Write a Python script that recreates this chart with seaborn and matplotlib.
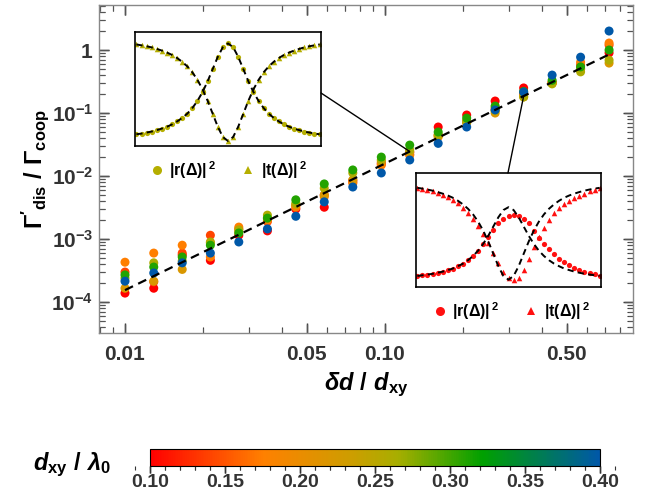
import numpy as np
import pandas as pd
import matplotlib
matplotlib.use("Agg")
import matplotlib.pyplot as plt
import seaborn as sns
from matplotlib.colors import LinearSegmentedColormap, Normalize
from matplotlib.cm import ScalarMappable
from matplotlib.patches import ConnectionPatch
from matplotlib.lines import Line2D
import matplotlib.ticker as mticker

plt.rcdefaults()
plt.rcParams['font.family'] = ['Liberation Sans', 'DejaVu Sans']
plt.rcParams['font.weight'] = 'bold'
plt.rcParams['mathtext.fontset'] = 'custom'
plt.rcParams['mathtext.rm'] = 'Liberation Sans:bold'
plt.rcParams['mathtext.it'] = 'Liberation Sans:bold:italic'
plt.rcParams['mathtext.bf'] = 'Liberation Sans:bold'
plt.rcParams['mathtext.bfit'] = 'Liberation Sans:bold:italic'
plt.rcParams['mathtext.sf'] = 'Liberation Sans:bold'
plt.rcParams['xtick.direction'] = 'in'
plt.rcParams['ytick.direction'] = 'in'
plt.rcParams['xtick.top'] = True
plt.rcParams['ytick.right'] = True
plt.rcParams['xtick.major.size'] = 7
plt.rcParams['ytick.major.size'] = 7
plt.rcParams['xtick.minor.size'] = 4
plt.rcParams['ytick.minor.size'] = 4
plt.rcParams['xtick.major.width'] = 1.0
plt.rcParams['ytick.major.width'] = 1.0
plt.rcParams['xtick.minor.width'] = 0.8
plt.rcParams['ytick.minor.width'] = 0.8
plt.rcParams['xtick.color'] = '#333333'
plt.rcParams['ytick.color'] = '#333333'

# ---------------- data ----------------
delta_d = [0.0100, 0.0129, 0.0166, 0.0213, 0.0274, 0.0353, 0.0454, 0.0584, 0.0752,
           0.0968, 0.1245, 0.1602, 0.2062, 0.2653, 0.3415, 0.4394, 0.5655, 0.7277]
dxy_values = [0.10, 0.14, 0.175, 0.22, 0.26, 0.31, 0.40]
gamma_010 = [1.39e-4, 1.66e-4, 5.6e-4, 4.6e-4, 1.15e-3, 1.35e-3, 3.0e-3, 3.2e-3, 8.5e-3,
             1.6e-2, 2.4e-2, 6.0e-2, 9.3e-2, 0.155, 0.25, 0.30, 0.50, 0.90]
gamma_014 = [3.0e-4, 2.1e-4, 6.0e-4, 1.15e-3, 1.45e-3, 1.9e-3, 3.4e-3, 5.0e-3, 8.0e-3,
             1.55e-2, 2.2e-2, 4.5e-2, 7.5e-2, 0.12, 0.20, 0.31, 0.58, 1.2]
gamma_0175 = [4.3e-4, 6.0e-4, 8.0e-4, 5.2e-4, 1.55e-3, 2.0e-3, 3.2e-3, 4.7e-3, 7.7e-3,
              1.49e-2, 2.15e-2, 4.2e-2, 7.0e-2, 0.11, 0.19, 0.30, 0.64, 1.29]
gamma_022 = [1.66e-4, 2.15e-4, 3.3e-4, 8.7e-4, 1.3e-3, 2.15e-3, 3.5e-3, 5.0e-3, 8.7e-3,
             1.7e-2, 2.4e-2, 4.3e-2, 7.2e-2, 0.100, 0.18, 0.30, 0.50, 0.62]
gamma_026 = [2.4e-4, 4.2e-4, 4.5e-4, 9.0e-4, 1.4e-3, 2.4e-3, 3.7e-3, 6.4e-3, 1.12e-2,
             1.8e-2, 2.6e-2, 4.5e-2, 7.2e-2, 0.11, 0.18, 0.29, 0.45, 0.69]
gamma_031 = [2.7e-4, 3.6e-4, 5.2e-4, 8.0e-4, 1.25e-3, 2.15e-3, 4.2e-3, 7.5e-3, 1.25e-2,
             2.0e-2, 3.1e-2, 5.0e-2, 8.3e-2, 0.129, 0.22, 0.33, 0.54, 1.0]
gamma_040 = [2.15e-4, 2.9e-4, 4.2e-4, 6.0e-4, 9.0e-4, 1.45e-3, 2.3e-3, 3.9e-3, 6.7e-3,
             1.12e-2, 1.8e-2, 3.3e-2, 6.0e-2, 0.112, 0.215, 0.40, 0.77, 2.0]
gamma_series = [gamma_010, gamma_014, gamma_0175, gamma_022, gamma_026, gamma_031, gamma_040]

fit_x = [0.0100, 0.7277]
fit_y = [1.55e-4, 0.85]

x_major = [0.01, 0.05, 0.10, 0.50]
x_major_labels = ['0.01', '0.05', '0.10', '0.50']
x_minor = [0.008, 0.009, 0.02, 0.03, 0.04, 0.06, 0.07, 0.08, 0.09,
           0.2, 0.3, 0.4, 0.6, 0.7, 0.8]
y_major = [1e-4, 1e-3, 1e-2, 1e-1, 1.0]
y_major_labels = [r'$\mathbf{10^{-4}}$', r'$\mathbf{10^{-3}}$', r'$\mathbf{10^{-2}}$',
                  r'$\mathbf{10^{-1}}$', r'$\mathbf{1}$']
cbar_ticks = [0.10, 0.15, 0.20, 0.25, 0.30, 0.35, 0.40]
cbar_tick_labels = ['0.10', '0.15', '0.20', '0.25', '0.30', '0.35', '0.40']

cmap_positions = [0.0, 0.25, 0.45, 0.55, 0.74, 1.0]
cmap_colors = ['#FF0000', '#FF8000', '#CC9E00', '#A8AE00', '#00A000', '#0058A8']

# inset spectra (normalised detuning, values as fraction of inset height)
detuning = [-1.0, -0.944, -0.889, -0.833, -0.778, -0.722, -0.667, -0.611, -0.556, -0.5,
            -0.444, -0.389, -0.333, -0.278, -0.222, -0.167, -0.111, -0.056, 0.0,
            0.056, 0.111, 0.167, 0.222, 0.278, 0.333, 0.389, 0.444, 0.5, 0.556,
            0.611, 0.667, 0.722, 0.778, 0.833, 0.889, 0.944, 1.0]
r_yellow = [0.103, 0.109, 0.118, 0.127, 0.139, 0.153, 0.169, 0.189, 0.215, 0.246, 0.284,
            0.333, 0.396, 0.473, 0.568, 0.675, 0.783, 0.867, 0.900, 0.867, 0.783, 0.675,
            0.568, 0.473, 0.396, 0.333, 0.284, 0.246, 0.215, 0.189, 0.169, 0.153, 0.139,
            0.127, 0.118, 0.109, 0.103]
t_yellow = [0.891, 0.883, 0.875, 0.865, 0.852, 0.837, 0.820, 0.799, 0.772, 0.739, 0.698,
            0.646, 0.579, 0.497, 0.396, 0.283, 0.168, 0.079, 0.044, 0.079, 0.168, 0.283,
            0.396, 0.497, 0.579, 0.646, 0.698, 0.739, 0.772, 0.799, 0.820, 0.837, 0.852,
            0.865, 0.875, 0.883, 0.891]
r_theory_red = [0.097, 0.103, 0.109, 0.116, 0.125, 0.135, 0.148, 0.162, 0.182, 0.205, 0.235,
                0.272, 0.319, 0.378, 0.449, 0.530, 0.612, 0.675, 0.700, 0.675, 0.612, 0.530,
                0.449, 0.378, 0.319, 0.272, 0.235, 0.205, 0.182, 0.162, 0.148, 0.135, 0.125,
                0.116, 0.109, 0.103, 0.097]
t_theory_red = [0.870, 0.863, 0.855, 0.845, 0.833, 0.819, 0.803, 0.783, 0.757, 0.725, 0.686,
                0.637, 0.573, 0.495, 0.399, 0.292, 0.182, 0.097, 0.064, 0.097, 0.182, 0.292,
                0.399, 0.495, 0.573, 0.637, 0.686, 0.725, 0.757, 0.783, 0.803, 0.819, 0.833,
                0.845, 0.855, 0.863, 0.870]
r_red = [0.097, 0.103, 0.109, 0.116, 0.125, 0.135, 0.148, 0.162, 0.182, 0.205, 0.235, 0.272,
         0.319, 0.378, 0.44, 0.50, 0.56, 0.60, 0.625, 0.635, 0.625, 0.60, 0.56, 0.49, 0.43,
         0.38, 0.335, 0.29, 0.25, 0.22, 0.195, 0.17, 0.152, 0.135, 0.122, 0.11, 0.10]
t_red = [0.87, 0.862, 0.853, 0.842, 0.828, 0.811, 0.79, 0.764, 0.733, 0.695, 0.65, 0.597,
         0.535, 0.463, 0.385, 0.30, 0.21, 0.13, 0.08, 0.058, 0.075, 0.15, 0.25, 0.35, 0.44,
         0.52, 0.59, 0.645, 0.69, 0.725, 0.755, 0.78, 0.80, 0.82, 0.838, 0.855, 0.87]

yellow_col = '#B5AE00'
red_col = '#FF1010'
tick_col = '#555555'

# ---------------- figure ----------------
cmap = LinearSegmentedColormap.from_list('dxy', list(zip(cmap_positions, cmap_colors)))
norm = Normalize(0.10, 0.40)

df = pd.DataFrame({
    'dd': np.tile(delta_d, len(dxy_values)),
    'gamma': np.concatenate(gamma_series),
    'dxy': np.repeat(dxy_values, len(delta_d)),
})

fig = plt.figure(figsize=(6.49, 4.96), dpi=100)
ax = fig.add_axes([99/649, 1-333/496, 534/649, 328/496])
ax.set_xscale('log')
ax.set_yscale('log')
sns.scatterplot(data=df, x='dd', y='gamma', hue='dxy', palette=cmap, hue_norm=norm,
                s=42, linewidth=0, legend=False, ax=ax, zorder=3)
sns.lineplot(x=fit_x, y=fit_y, ax=ax, color='black', lw=1.6, zorder=4,
             linestyle=(0, (4, 2.6)), estimator=None, sort=False)
ax.set_xlim(10**-2.1, 10**-0.046)
ax.set_ylim(10**-4.49, 10**0.714)

ax.set_xticks(x_major)
ax.set_xticklabels(x_major_labels)
ax.set_xticks(x_minor, minor=True)
ax.xaxis.set_minor_formatter(mticker.NullFormatter())
ax.set_yticks(y_major)
ax.set_yticklabels(y_major_labels)
ax.yaxis.set_minor_locator(mticker.LogLocator(base=10, subs=np.arange(2, 10), numticks=50))
ax.yaxis.set_minor_formatter(mticker.NullFormatter())
ax.tick_params(axis='x', which='major', labelsize=15, pad=9)
ax.tick_params(axis='y', which='major', labelsize=15, pad=4)
for lab in ax.get_xticklabels() + ax.get_yticklabels():
    lab.set_fontweight('bold')
for sp in ax.spines.values():
    sp.set_color('#888888')
    sp.set_linewidth(1.0)

# explicit tick strokes (same positions as the axis locators), drawn on all four sides
tx = ax.get_xaxis_transform()
ty = ax.get_yaxis_transform()
ylo, yhi = ax.get_ylim()
xmaj = ax.xaxis.get_majorticklocs()
xmin_ = ax.xaxis.get_minorticklocs()
ymaj = [v for v in ax.yaxis.get_majorticklocs() if ylo <= v <= yhi]
ymin_ = [v for v in ax.yaxis.get_minorticklocs() if ylo <= v <= yhi]
for locs, L, lw in ((xmaj, 9.5/328, 1.0), (xmin_, 5.5/328, 0.8)):
    ax.vlines(locs, 0, L, transform=tx, color=tick_col, lw=lw, zorder=2)
    ax.vlines(locs, 1 - L, 1, transform=tx, color=tick_col, lw=lw, zorder=2)
for locs, L, lw in ((ymaj, 9.5/534, 1.0), (ymin_, 5.5/534, 0.8)):
    ax.hlines(locs, 0, L, transform=ty, color=tick_col, lw=lw, zorder=2)
    ax.hlines(locs, 1 - L, 1, transform=ty, color=tick_col, lw=lw, zorder=2)

ax.set_xlabel(r'$\mathbfit{\delta d}\ \mathbf{/}\ \mathbfit{d}_{\mathbf{xy}}$', fontsize=17)
ax.xaxis.set_label_coords(0.5, -0.115)
ax.set_ylabel(r"$\mathbf{\Gamma'_{dis}\ /\ \Gamma_{coop}}$", fontsize=17)
ax.yaxis.set_label_coords(-0.09, 0.5)


def draw_inset(rect, r_pts, t_pts, r_th, t_th, col):
    ins = fig.add_axes(rect)
    sns.scatterplot(x=detuning, y=r_pts, ax=ins, color=col, marker='o', s=14,
                    linewidth=0, legend=False, zorder=2)
    sns.scatterplot(x=detuning, y=t_pts, ax=ins, color=col, marker='^', s=16,
                    linewidth=0, legend=False, zorder=2)
    for th in (r_th, t_th):
        sns.lineplot(x=detuning, y=th, ax=ins, color='black', lw=1.4,
                     linestyle=(0, (3.2, 2.2)), estimator=None, sort=False, zorder=3)
    ins.set_xlim(-1.015, 1.015)
    ins.set_ylim(0, 1)
    ins.set_xticks([])
    ins.set_yticks([])
    ins.set_xlabel('')
    ins.set_ylabel('')
    ins.set_facecolor('white')
    for sp in ins.spines.values():
        sp.set_color('black')
        sp.set_linewidth(1.2)
    return ins


ax1 = draw_inset([135/649, 1-146/496, 186/649, 114/496], r_yellow, t_yellow,
                 r_yellow, t_yellow, yellow_col)
ax2 = draw_inset([416/649, 1-287/496, 185/649, 114/496], r_red, t_red,
                 r_theory_red, t_theory_red, red_col)


def fit_value(xv):
    return 10**np.interp(np.log10(xv), np.log10(fit_x), np.log10(fit_y))


con1 = ConnectionPatch(xyA=(1.0, 0.465), coordsA=ax1.transAxes,
                       xyB=(delta_d[10], fit_value(delta_d[10])), coordsB=ax.transData,
                       color='black', lw=1.0, zorder=5)
fig.add_artist(con1)
con2 = ConnectionPatch(xyA=(0.497, 1.0), coordsA=ax2.transAxes,
                       xyB=(delta_d[14], fit_value(delta_d[14])), coordsB=ax.transData,
                       color='black', lw=1.0, zorder=5)
fig.add_artist(con2)

leg_labels = [r'$\mathbf{|r(\Delta)|}^{\,\mathbf{2}}$', r'$\mathbf{|t(\Delta)|}^{\,\mathbf{2}}$']
for col, center in ((yellow_col, (227/649, 1-170/496)), (red_col, (510/649, 1-311/496))):
    handles = [Line2D([], [], ls='', marker='o', color=col, ms=6.5, mew=0),
               Line2D([], [], ls='', marker='^', color=col, ms=5.5, mew=0)]
    fig.legend(handles=handles, labels=leg_labels, ncol=2, loc='center',
               bbox_to_anchor=center, frameon=False, fontsize=11.5,
               handletextpad=0.2, columnspacing=1.4, handlelength=1.2)

cax = fig.add_axes([150/649, 1-466/496, 450/649, 17/496])
cb = fig.colorbar(ScalarMappable(norm=norm, cmap=cmap), cax=cax, orientation='horizontal')
cb.set_ticks(cbar_ticks)
cb.set_ticklabels(cbar_tick_labels)
cax.xaxis.set_minor_locator(mticker.MultipleLocator(0.01))
cax.tick_params(which='both', direction='out', top=False, bottom=True)
cax.tick_params(which='major', length=5, labelsize=14, pad=1)
cax.tick_params(which='minor', length=3)
for lab in cax.get_xticklabels():
    lab.set_fontweight('bold')
cb.outline.set_linewidth(0.8)
cb.outline.set_edgecolor('black')
ctx = cax.get_xaxis_transform()
cax.vlines(cbar_ticks, -7/17, 0, transform=ctx, color='#333333', lw=1.0, clip_on=False)
cax.vlines(cax.xaxis.get_minorticklocs(), -4/17, 0, transform=ctx, color='#333333',
           lw=0.8, clip_on=False)

fig.text(72/649, 1-465/496, r'$\mathbfit{d}_{\mathbf{xy}}\ \mathbf{/}\ \mathbfit{\lambda}_{\mathbf{0}}$',
         fontsize=17, ha='center', va='center')

fig.savefig('out.png', dpi=100)
